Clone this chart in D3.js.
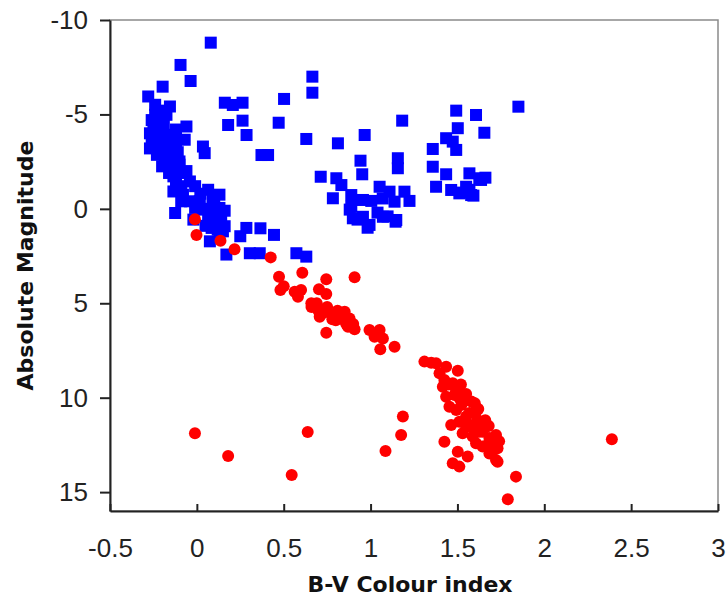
<!DOCTYPE html>
<html>
<head>
<meta charset="utf-8">
<script src="https://cdn.jsdelivr.net/npm/d3@7"></script>
<style>
  body { margin: 0; background: #fff; }
  .tick text { font-family: "Liberation Sans", Arial, sans-serif; font-size: 26px; fill: #222; }
  .axis-title { font-family: "DejaVu Sans", Verdana, sans-serif; font-weight: bold; font-size: 22px; fill: #111; }
</style>
</head>
<body>
<script>
// [B-V colour index, absolute magnitude]
const blueMainSeq = [
  [-0.28, -5.95], [-0.24, -5.51], [-0.2, -5.2], [-0.155, -5.42], [-0.24, -4.98], [-0.175, -4.98],
  [-0.22, -4.6], [-0.26, -4.7], [-0.19, -4.4], [-0.06, -4.36], [-0.25, -4.28], [-0.21, -3.92],
  [-0.27, -4.0], [-0.165, -3.92], [-0.135, -3.75], [-0.07, -3.66], [-0.2, -3.6], [-0.16, -3.5],
  [-0.26, -3.7], [-0.12, -4.2], [-0.12, -3.4], [-0.27, -3.2],
  [-0.23, -3.39], [-0.185, -3.3], [-0.135, -3.22], [-0.11, -3.0], [0.035, -3.3],
  [0.045, -2.95], [-0.23, -2.86], [-0.185, -2.77], [-0.135, -2.69], [-0.1, -2.51],
  [-0.12, -2.9], [-0.17, -2.5], [-0.2, -2.25], [-0.145, -2.16], [-0.1, -2.34], [-0.06, -2.0],
  [-0.09, -1.9], [-0.16, -1.9], [-0.135, -1.72], [-0.04, -1.45], [-0.12, -1.37], [-0.01, -1.2],
  [-0.09, -1.2], [0.065, -1.01], [0.02, -0.8], [0.13, -0.75], [-0.135, -0.92], [-0.08, -0.75],
  [0.09, -0.6], [-0.09, -0.4], [-0.04, -0.4], [0.017, -0.4], [0.1, -0.3], [-0.01, -0.05],
  [0.035, 0.04], [0.07, 0.0], [0.13, -0.05], [0.16, 0.1], [0.1, 0.2], [0.14, 0.4], [-0.125, 0.22],
  [0.065, 0.57], [-0.02, 0.57], [0.12, 0.8], [0.16, 0.92], [0.05, 0.9], [0.085, 1.01],
  [0.12, 1.1], [0.15, 1.19], [0.13, 1.45], [0.075, 1.72], [0.25, 1.45], [0.17, 2.42], [0.285, 1.01]
]

const blueGiants = [
  [0.08, -8.8], [-0.094, -7.62], [-0.036, -6.77], [-0.197, -6.47], [0.161, -5.62],
  [0.207, -5.5], [0.263, -5.62], [0.502, -5.82], [0.665, -7.0], [0.665, -6.15],
  [0.18, -4.44], [0.263, -4.67], [0.286, -3.91], [0.471, -4.56], [0.63, -3.7],
  [0.372, -2.85], [0.41, -2.85], [0.366, 1.03], [0.444, 1.38], [0.305, 2.35],
  [0.362, 2.35], [0.573, 2.35], [0.63, 2.53],
  [0.812, -3.47], [0.966, -3.91], [1.182, -4.67], [1.493, -5.2], [1.607, -4.97],
  [1.851, -5.41], [1.655, -4.03], [1.502, -4.27], [1.435, -3.74], [1.473, -3.56],
  [1.493, -3.12], [1.358, -3.17], [0.942, -2.55], [1.157, -2.68], [1.157, -2.15],
  [0.952, -1.83], [0.713, -1.7], [0.803, -1.62], [0.832, -1.26], [0.783, -0.56],
  [0.889, -0.73], [0.956, -0.47], [1.004, -0.42], [0.889, -0.11], [0.898, 0.5],
  [0.956, 0.42], [0.994, 0.85], [1.052, -1.17], [1.109, -0.91], [1.138, -0.38],
  [1.071, 0.42], [1.148, 0.59], [1.195, -0.91], [1.224, -0.42], [0.88, 0.04],
  [0.925, 0.57], [0.983, 1.0], [1.04, 0.2], [1.098, 0.4], [1.144, 0.68], [1.07, -0.55],
  [1.358, -2.23], [1.435, -1.83], [1.377, -1.17], [1.464, -1.0], [1.511, -0.82],
  [1.569, -1.88], [1.626, -1.62], [1.636, -1.53], [1.579, -0.73], [1.55, -1.17],
  [1.569, -1.01], [1.592, -0.7], [1.523, -0.86], [1.661, -1.65]
]

const redMainSeq = [
  [-0.011, 0.55], [-0.002, 1.38], [0.136, 1.69], [0.217, 2.14], [0.425, 2.57],
  [0.607, 3.38], [0.473, 3.59], [0.481, 4.3], [0.5, 4.1], [0.745, 3.73], [0.908, 3.62],
  [0.563, 4.39], [0.582, 4.65], [0.6, 4.3], [0.703, 4.26], [0.745, 4.51], [0.659, 5.0],
  [0.69, 5.0], [0.66, 5.2], [0.697, 5.36], [0.707, 5.71], [0.73, 5.5], [0.75, 5.2], [0.783, 5.62],
  [0.81, 5.4], [0.851, 5.45], [0.879, 5.8], [0.8, 5.9], [0.78, 5.85], [0.84, 5.8], [0.85, 5.9],
  [0.86, 6.1], [0.9, 6.1], [0.745, 6.56], [0.87, 6.24], [0.908, 6.38],
  [0.994, 6.41], [1.052, 6.41], [1.023, 6.77], [1.071, 6.86], [1.056, 7.44],
  [1.138, 7.3], [1.31, 8.09], [1.349, 8.15], [1.377, 8.18], [1.435, 8.36],
  [1.397, 8.71], [1.502, 8.57], [1.425, 9.06], [1.416, 9.42], [1.473, 9.24], [1.45, 9.3],
  [1.52, 9.3], [1.493, 9.6], [1.483, 9.86], [1.55, 9.8], [1.435, 9.95], [1.511, 10.02], [1.55, 10.12],
  [1.58, 10.2], [1.6, 10.3], [1.523, 10.39], [1.454, 10.48], [1.493, 10.65], [1.62, 10.6],
  [1.569, 10.81], [1.607, 10.74], [1.55, 11.0], [1.615, 11.18], [1.66, 11.2], [1.464, 11.45],
  [1.511, 11.27], [1.55, 11.54], [1.569, 11.45], [1.607, 11.36], [1.655, 11.6], [1.68, 11.5],
  [1.598, 11.71], [1.53, 11.88], [1.626, 11.8], [1.588, 12.06], [1.645, 11.8], [1.684, 12.13],
  [1.722, 11.98], [1.7, 12.2], [1.74, 12.3], [1.672, 12.5], [1.645, 12.59], [1.72, 12.5],
  [1.731, 12.68], [1.707, 12.77], [1.684, 12.95], [1.607, 12.41], [1.722, 13.3], [1.731, 13.39],
  [1.425, 12.33], [1.502, 12.86], [1.559, 13.12], [1.473, 13.47], [1.511, 13.65],
  [1.837, 14.18], [1.79, 15.38], [1.186, 11.0], [1.176, 11.98]
]

const redScattered = [
  [-0.011, 11.88], [0.18, 13.09], [0.638, 11.82], [0.546, 14.09], [1.086, 12.82], [2.389, 12.2]
]

const xTicks = [-0.5, 0, 0.5, 1, 1.5, 2, 2.5, 3]
const yTicks = [-10, -5, 0, 5, 10, 15]

const w = 726
const h = 600
const margin = { top: 20, right: 8, bottom: 89, left: 110 }
const pw = w - margin.left - margin.right
const ph = h - margin.top - margin.bottom

const svg = d3.select('body')
    .append('svg')
    .attr('width', w)
    .attr('height', h)

const g = svg.append('g')
    .attr('transform', `translate(${margin.left}, ${margin.top})`)

const x = d3.scaleLinear()
    .domain([-0.5, 3])
    .range([0, pw])

const y = d3.scaleLinear()
    .domain([-10, 16])
    .range([0, ph])

// plot area frame (grey top/right)
g.append('rect')
    .attr('width', pw)
    .attr('height', ph)
    .attr('fill', 'none')
    .attr('stroke', '#8a8a8a')
    .attr('stroke-width', 1.5)

const squareSize = 12

g.selectAll('rect.blue')
    .data(blueMainSeq.concat(blueGiants))
    .enter()
    .append('rect')
    .attr('class', 'blue')
    .attr('x', d => x(d[0]) - squareSize / 2)
    .attr('y', d => y(d[1]) - squareSize / 2)
    .attr('width', squareSize)
    .attr('height', squareSize)
    .attr('fill', '#0000ff')

g.selectAll('circle.red')
    .data(redMainSeq.concat(redScattered))
    .enter()
    .append('circle')
    .attr('class', 'red')
    .attr('cx', d => x(d[0]))
    .attr('cy', d => y(d[1]))
    .attr('r', 6)
    .attr('fill', '#ff0000')

const xAxis = d3.axisBottom(x)
    .tickValues(xTicks)
    .tickFormat(d => String(d))
    .tickSizeInner(-7)
    .tickSizeOuter(0)
    .tickPadding(28)

const yAxis = d3.axisLeft(y)
    .tickValues(yTicks)
    .tickFormat(d => String(d))
    .tickSizeInner(10)
    .tickSizeOuter(0)
    .tickPadding(12)

const gx = g.append('g')
    .attr('id', 'x-axis')
    .attr('transform', `translate(0, ${ph})`)
    .call(xAxis)

const gy = g.append('g')
    .attr('id', 'y-axis')
    .call(yAxis)

gx.selectAll('path, line').attr('stroke', '#222').attr('stroke-width', 2)
gy.selectAll('path, line').attr('stroke', '#222').attr('stroke-width', 2)
gx.selectAll('text').attr('font-family', null).attr('font-size', null)
gy.selectAll('text').attr('font-family', null).attr('font-size', null)

svg.append('text')
    .attr('class', 'axis-title')
    .attr('x', margin.left + pw / 2 - 4)
    .attr('y', 592)
    .attr('text-anchor', 'middle')
    .text('B-V Colour index')

svg.append('text')
    .attr('class', 'axis-title')
    .attr('transform', `translate(33, ${margin.top + ph / 2}) rotate(-90)`)
    .attr('text-anchor', 'middle')
    .text('Absolute Magnitude')
</script>
</body>
</html>
